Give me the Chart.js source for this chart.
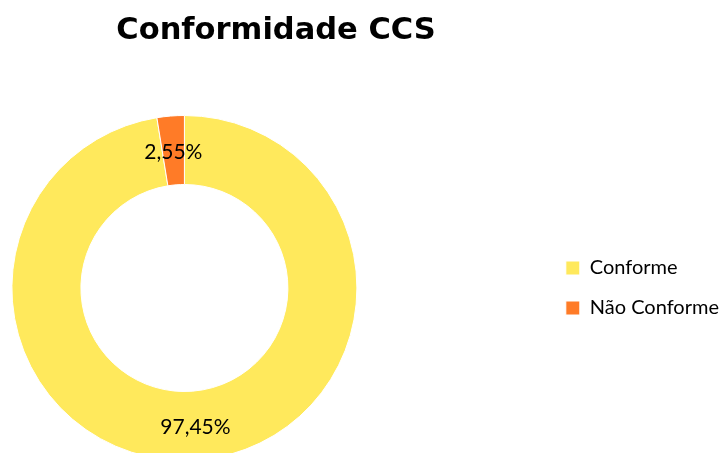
<!DOCTYPE html>
<html>
<head>
<meta charset="utf-8">
<script src="https://cdn.jsdelivr.net/npm/chart.js@4.4.0/dist/chart.umd.min.js"></script>
<style>
  html, body { margin: 0; padding: 0; background: #fff; overflow: hidden; width: 723px; height: 453px; }
  #wrap { position: absolute; left: -177px; top: 0; width: 906px; height: 461px; }
</style>
</head>
<body>
<div id="wrap"><canvas id="ccs-chart" width="906" height="461"></canvas></div>
<script>
const categories = ["Conforme", "Não Conforme"];
const percentages = [97.45, 2.55];
const sliceColors = ["#FFE95C", "#FF7B27"];

// rótulos de percentagem no meio de cada fatia
const sliceLabels = {
  id: "sliceLabels",
  afterDatasetsDraw(chart) {
    const ctx = chart.ctx;
    const meta = chart.getDatasetMeta(0);
    ctx.save();
    ctx.font = "21px Lato";
    ctx.fillStyle = "#000";
    ctx.textAlign = "center";
    ctx.textBaseline = "middle";
    meta.data.forEach((arc, i) => {
      const p = arc.tooltipPosition();
      const txt = percentages[i].toFixed(2).replace(".", ",") + "%";
      ctx.fillText(txt, p.x, p.y + 2);
    });
    ctx.restore();
  }
};

const config = {
  type: "doughnut",
  data: {
    labels: categories,
    datasets: [
      {
        data: percentages,
        backgroundColor: sliceColors,
        borderColor: "#ffffff",
        borderWidth: 1,
      }
    ],
  },
  options: {
    responsive: false,
    animation: false,
    cutout: "60%",
    layout: {
      padding: 0,
    },
    plugins: {
      title: {
        display: true,
        text: "Conformidade CCS",
        color: "#000",
        font: { family: "DejaVu Sans", size: 30.5, weight: "bold", lineHeight: 1.2 },
        padding: { top: 13, bottom: 65.4 },
      },
      legend: {
        position: "right",
        fullSize: false,
        labels: {
          color: "#000",
          boxWidth: 14,
          boxHeight: 14,
          padding: 20,
          font: { family: "Lato", size: 20 },
        },
      },
      tooltip: { enabled: false },
    },
  },
  plugins: [sliceLabels],
};

const ctx = document.getElementById("ccs-chart").getContext("2d");
window.ccsChart = new Chart(ctx, config);
</script>
</body>
</html>
